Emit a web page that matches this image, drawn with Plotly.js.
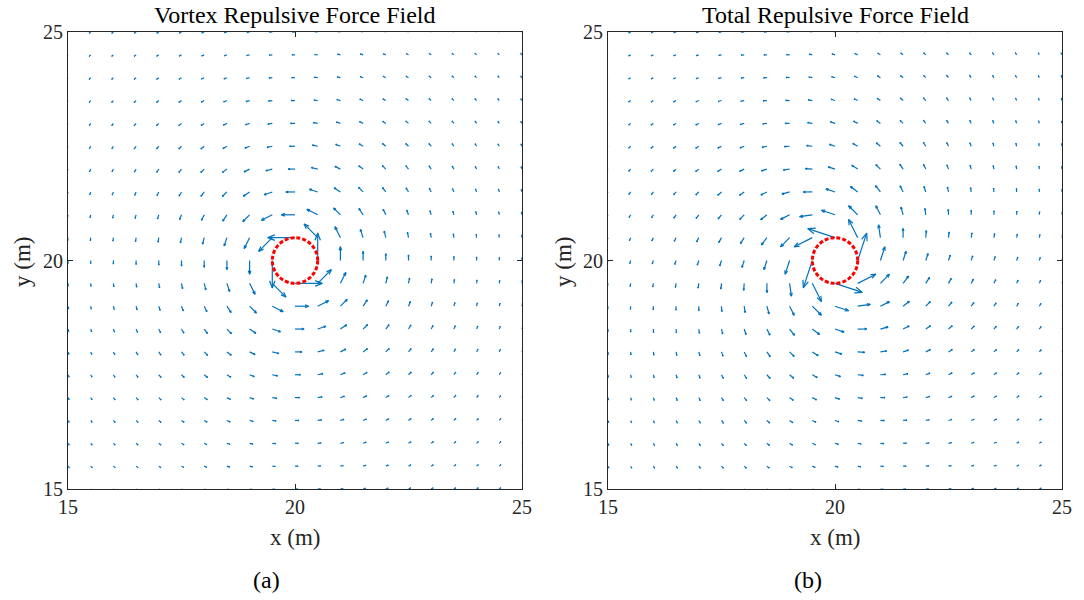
<!DOCTYPE html>
<html>
<head>
<meta charset="utf-8">
<script src="https://cdn.plot.ly/plotly-3.0.1.min.js"></script>
<style>
html,body{margin:0;padding:0;background:#ffffff;}
#chart{width:1084px;height:600px;}
</style>
</head>
<body>
<div id="chart"></div>
<script>
// ---------------- data ----------------
const gridX = [15,15.5,16,16.5,17,17.5,18,18.5,19,19.5,20,20.5,21,21.5,22,22.5,23,23.5,24,24.5,25];
const gridY = [15,15.5,16,16.5,17,17.5,18,18.5,19,19.5,20,20.5,21,21.5,22,22.5,23,23.5,24,24.5,25];
const obstacleCenter = [20, 20];
const obstacleRadius = [0.5];
// arrow length (m), indexed [|row offset|][|column offset|] from the obstacle, in grid steps
const arrowLength = [
  [0.000,0.600,0.300,0.200,0.150,0.120,0.100,0.086,0.075,0.067,0.060],
  [0.600,0.424,0.268,0.190,0.146,0.118,0.099,0.085,0.074,0.066,0.060],
  [0.300,0.268,0.212,0.166,0.134,0.111,0.095,0.082,0.073,0.065,0.059],
  [0.200,0.190,0.166,0.141,0.120,0.103,0.089,0.079,0.070,0.063,0.057],
  [0.150,0.146,0.134,0.120,0.106,0.094,0.083,0.074,0.067,0.061,0.056],
  [0.120,0.118,0.111,0.103,0.094,0.085,0.077,0.070,0.064,0.058,0.054],
  [0.100,0.099,0.095,0.089,0.083,0.077,0.071,0.065,0.060,0.055,0.051],
  [0.086,0.085,0.082,0.079,0.074,0.070,0.065,0.061,0.056,0.053,0.049],
  [0.075,0.074,0.073,0.070,0.067,0.064,0.060,0.056,0.053,0.050,0.047],
  [0.067,0.066,0.065,0.063,0.061,0.058,0.055,0.053,0.050,0.047,0.045],
  [0.060,0.060,0.059,0.057,0.056,0.054,0.051,0.049,0.047,0.045,0.042]
];
// outward (radial) share relative to the tangential (counter-clockwise) share, per panel
const outwardRatio = [0.0, 0.33];
const panelTitles = ['Vortex Repulsive Force Field', 'Total Repulsive Force Field'];
const panelCaptions = ['(a)', '(b)'];
const axisTicks = [15, 20, 25];
const xLabel = 'x (m)';
const yLabel = 'y (m)';

// ---------------- style ----------------
const FONT = '"Liberation Serif", "Times New Roman", serif';
const ARROW_COLOR = '#0072BD';
const HEAD_LEN = 0.26;
const HEAD_HALF = 0.10;
const xDomains = [[68/1084, 522/1084], [608/1084, 1062/1084]];
const yDomain = [(600-489)/600, (600-32)/600];

const step = gridX[1] - gridX[0];
const traces = [];
[0, 1].forEach(p => {
  const xs = [], ys = [];
  gridY.forEach(gy => {
    gridX.forEach(gx => {
      const dx = gx - obstacleCenter[0], dy = gy - obstacleCenter[1];
      const r = Math.hypot(dx, dy);
      const m = arrowLength[Math.round(Math.abs(dy)/step)][Math.round(Math.abs(dx)/step)];
      if (!m || r === 0) return;
      const k = outwardRatio[p];
      const u = m * (-dy + k*dx) / r;
      const v = m * ( dx + k*dy) / r;
      const tx = gx + u, ty = gy + v;
      const L = Math.hypot(u, v), ex = u/L, ey = v/L;
      const h = HEAD_LEN * L, w = HEAD_HALF * L;
      const bx = tx - h*ex, by = ty - h*ey;
      xs.push(gx, tx, null, bx - w*ey, tx, bx + w*ey, null);
      ys.push(gy, ty, null, by + w*ex, ty, by - w*ex, null);
    });
  });
  traces.push({
    type: 'scatter', mode: 'lines', x: xs, y: ys,
    xaxis: p ? 'x2' : 'x', yaxis: p ? 'y2' : 'y',
    line: {color: ARROW_COLOR, width: 1.2},
    hoverinfo: 'skip', showlegend: false
  });
});

function axis(domain, anchor) {
  return {
    domain: domain, anchor: anchor, range: [axisTicks[0], axisTicks[axisTicks.length-1]],
    tickmode: 'array', tickvals: axisTicks, ticktext: axisTicks.map(String),
    ticks: 'inside', ticklen: 5, tickwidth: 1, tickcolor: '#262626',
    showline: true, linecolor: '#262626', linewidth: 1, mirror: 'ticks',
    showgrid: false, zeroline: false, fixedrange: true,
    tickfont: {family: FONT, size: 20, color: '#262626'}
  };
}

const annotations = [];
[0, 1].forEach(p => {
  const cx = (xDomains[p][0] + xDomains[p][1]) / 2;
  annotations.push({text: panelTitles[p], xref: 'paper', yref: 'paper', x: cx, y: 1 - 15/600,
    xanchor: 'center', yanchor: 'middle', showarrow: false, font: {family: FONT, size: 24, color: '#000'}});
  annotations.push({text: xLabel, xref: 'paper', yref: 'paper', x: cx, y: 1 - 537/600,
    xanchor: 'center', yanchor: 'middle', showarrow: false, font: {family: FONT, size: 23, color: '#262626'}});
  annotations.push({text: yLabel, xref: 'paper', yref: 'paper', x: (p ? 563 : 22)/1084, y: 1 - 262/600,
    xanchor: 'center', yanchor: 'middle', textangle: -90, showarrow: false, font: {family: FONT, size: 23, color: '#262626'}});
  annotations.push({text: panelCaptions[p], xref: 'paper', yref: 'paper', x: (p ? 808 : 266)/1084, y: 1 - 580/600,
    xanchor: 'center', yanchor: 'middle', showarrow: false, font: {family: FONT, size: 24, color: '#000'}});
});

const shapes = [0, 1].map(p => ({
  type: 'circle', xref: p ? 'x2' : 'x', yref: p ? 'y2' : 'y', layer: 'above',
  x0: obstacleCenter[0] - obstacleRadius[0], x1: obstacleCenter[0] + obstacleRadius[0],
  y0: obstacleCenter[1] - obstacleRadius[0], y1: obstacleCenter[1] + obstacleRadius[0],
  line: {color: '#FF0000', width: 3, dash: '4px,2px'}
}));

const layout = {
  width: 1084, height: 600,
  margin: {l: 0, r: 0, t: 0, b: 0},
  paper_bgcolor: '#ffffff', plot_bgcolor: '#ffffff',
  showlegend: false,
  xaxis: axis(xDomains[0], 'y'),
  yaxis: axis(yDomain, 'x'),
  xaxis2: axis(xDomains[1], 'y2'),
  yaxis2: axis(yDomain, 'x2'),
  annotations: annotations,
  shapes: shapes
};

Plotly.newPlot('chart', traces, layout, {displayModeBar: false, staticPlot: true});
</script>
</body>
</html>
